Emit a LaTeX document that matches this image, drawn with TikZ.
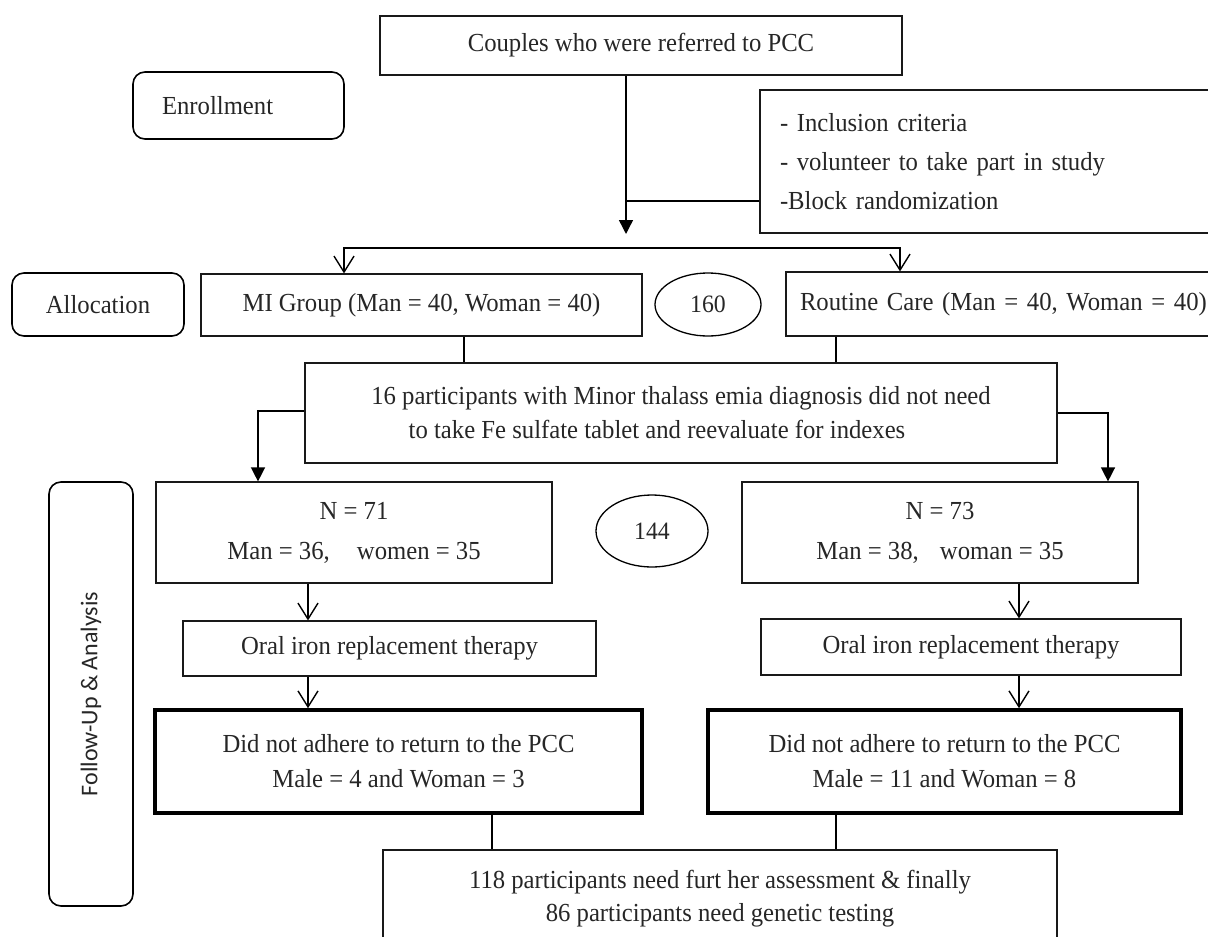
\documentclass[tikz,border=0pt]{standalone}
\usepackage{fontspec}
\setmainfont{Liberation Serif}[FakeStretch=0.95]
\newfontfamily\sidefont{Carlito}
\usetikzlibrary{arrows.meta,shapes.geometric}

\begin{document}
\begin{tikzpicture}[x=1pt, y=-1pt,
    box/.style={rectangle, draw=black!90, line width=1.2pt, align=center, inner sep=0pt, text=black!85, font=\fontsize{26}{35}\selectfont},
    thickbox/.style={box, draw=black, line width=3.6pt},
    sidebox/.style={rectangle, rounded corners=12pt, draw=black, line width=1.6pt, align=center, inner sep=0pt, text=black!85, font=\fontsize{26}{30}\selectfont},
    countnode/.style={ellipse, draw=black, line width=1.3pt, inner sep=0pt, text=black!85, font=\fontsize{25}{28}\selectfont},
    link/.style={line width=1.4pt},
    fillarrow/.style={link, -{Triangle[length=14pt, width=14pt]}},
    openarrow/.style={link, -{Straight Barb[length=16pt, width=20pt]}},
    twoway/.style={link, {Straight Barb[length=16pt, width=20pt]}-{Straight Barb[length=16pt, width=20pt]}}
]
\useasboundingbox (0,0) rectangle (1208,937);
\clip (0,0) rectangle (1208,937);

% Enrollment
\node[box, minimum width=522pt, minimum height=59pt] (couples) at (641,45.5) {Couples who were referred to PCC};
\node[sidebox, minimum height=67pt, inner xsep=29pt, text width=153pt, align=left] (enroll) at (238.5,105.5) {Enrollment};
\node[box, minimum height=143pt, inner xsep=20pt, text width=430pt, align=left, font=\fontsize{26}{39}\selectfont] (criteria) at (995,161.5) {- Inclusion criteria\\- volunteer to take part in study\\-Block randomization};

% Allocation
\node[sidebox, minimum width=172pt, minimum height=63pt] (alloc) at (98,304.5) {Allocation};
\node[box, minimum width=441pt, minimum height=62pt] (mi) at (421.5,305) {MI Group (Man = 40, Woman = 40)};
\node[countnode, minimum width=106pt, minimum height=63pt] (total) at (708,304.5) {160};
\node[box, minimum height=64pt, inner xsep=14pt, text width=450pt, align=left] (routine) at (1025,304) {Routine Care (Man = 40, Woman = 40)};

% Minor thalassemia
\node[box, minimum width=752pt, minimum height=100pt, font=\fontsize{26}{34}\selectfont] (minor) at (681,413) {16 participants with Minor thalass emia diagnosis did not need\\to take Fe sulfate tablet and reevaluate for indexes\hspace*{48pt}};

% Follow-up
\node[sidebox, minimum width=84pt, minimum height=424pt] (follow) at (91,694) {\rotatebox{90}{\sidefont\fontsize{24}{28}\selectfont Follow-Up \& Analysis}};
\node[box, minimum width=396pt, minimum height=101pt, font=\fontsize{26}{40}\selectfont] (nmi) at (354,532.5) {N = 71\\Man = 36,\hspace{21pt} women = 35};
\node[countnode, minimum width=112pt, minimum height=72pt] (remain) at (652,531) {144};
\node[box, minimum width=396pt, minimum height=101pt, font=\fontsize{26}{40}\selectfont] (nrc) at (940,532.5) {N = 73\\Man = 38,\hspace{15pt} woman = 35};
\node[box, minimum width=413pt, minimum height=55pt] (oralmi) at (389.5,648.5) {Oral iron replacement therapy};
\node[box, minimum width=420pt, minimum height=56pt] (oralrc) at (971,647) {Oral iron replacement therapy};
\node[thickbox, minimum width=487pt, minimum height=103pt] (dropmi) at (398.5,761.5) {Did not adhere to return to the PCC\\Male = 4 and Woman = 3};
\node[thickbox, minimum width=473pt, minimum height=103pt] (droprc) at (944.5,761.5) {Did not adhere to return to the PCC\\Male = 11 and Woman = 8};
\node[box, minimum width=674pt, minimum height=97pt, font=\fontsize{26}{33}\selectfont] (final) at (720,898.5) {118 participants need furt her assessment \& finally\\86 participants need genetic testing};

% Arrows
\coordinate (join) at (626,234);
\coordinate (bar) at (626,248);
\draw[fillarrow] (couples.south -| join) -- (join);
\draw[link] ([yshift=-39.5pt]criteria.west) coordinate (c) -- (c -| join);
\draw[twoway] ([xshift=-77.5pt]mi.north) |- (bar) -| ([xshift=-125pt]routine.north);

\draw[link] ([xshift=42.5pt]mi.south) coordinate (m) -- (m |- minor.north);
\draw[link] ([xshift=-189pt]routine.south) coordinate (r) -- (r |- minor.north);
\draw[fillarrow] ([yshift=2pt]minor.west) -| ([xshift=-96pt]nmi.north);
\draw[fillarrow] (minor.east) -| ([xshift=168pt]nrc.north);

\draw[openarrow] ([xshift=-46pt]nmi.south) -- ([xshift=-81.5pt]oralmi.north);
\draw[openarrow] ([xshift=-81.5pt]oralmi.south) -- ([xshift=-90.5pt]dropmi.north);
\draw[openarrow] ([xshift=79pt]nrc.south) -- ([xshift=48pt]oralrc.north);
\draw[openarrow] ([xshift=48pt]oralrc.south) -- ([xshift=74.5pt]droprc.north);

\draw[link] ([xshift=93.5pt]dropmi.south) -- ([xshift=-228pt]final.north);
\draw[link] ([xshift=-108.5pt]droprc.south) -- ([xshift=116pt]final.north);

\end{tikzpicture}
\end{document}
